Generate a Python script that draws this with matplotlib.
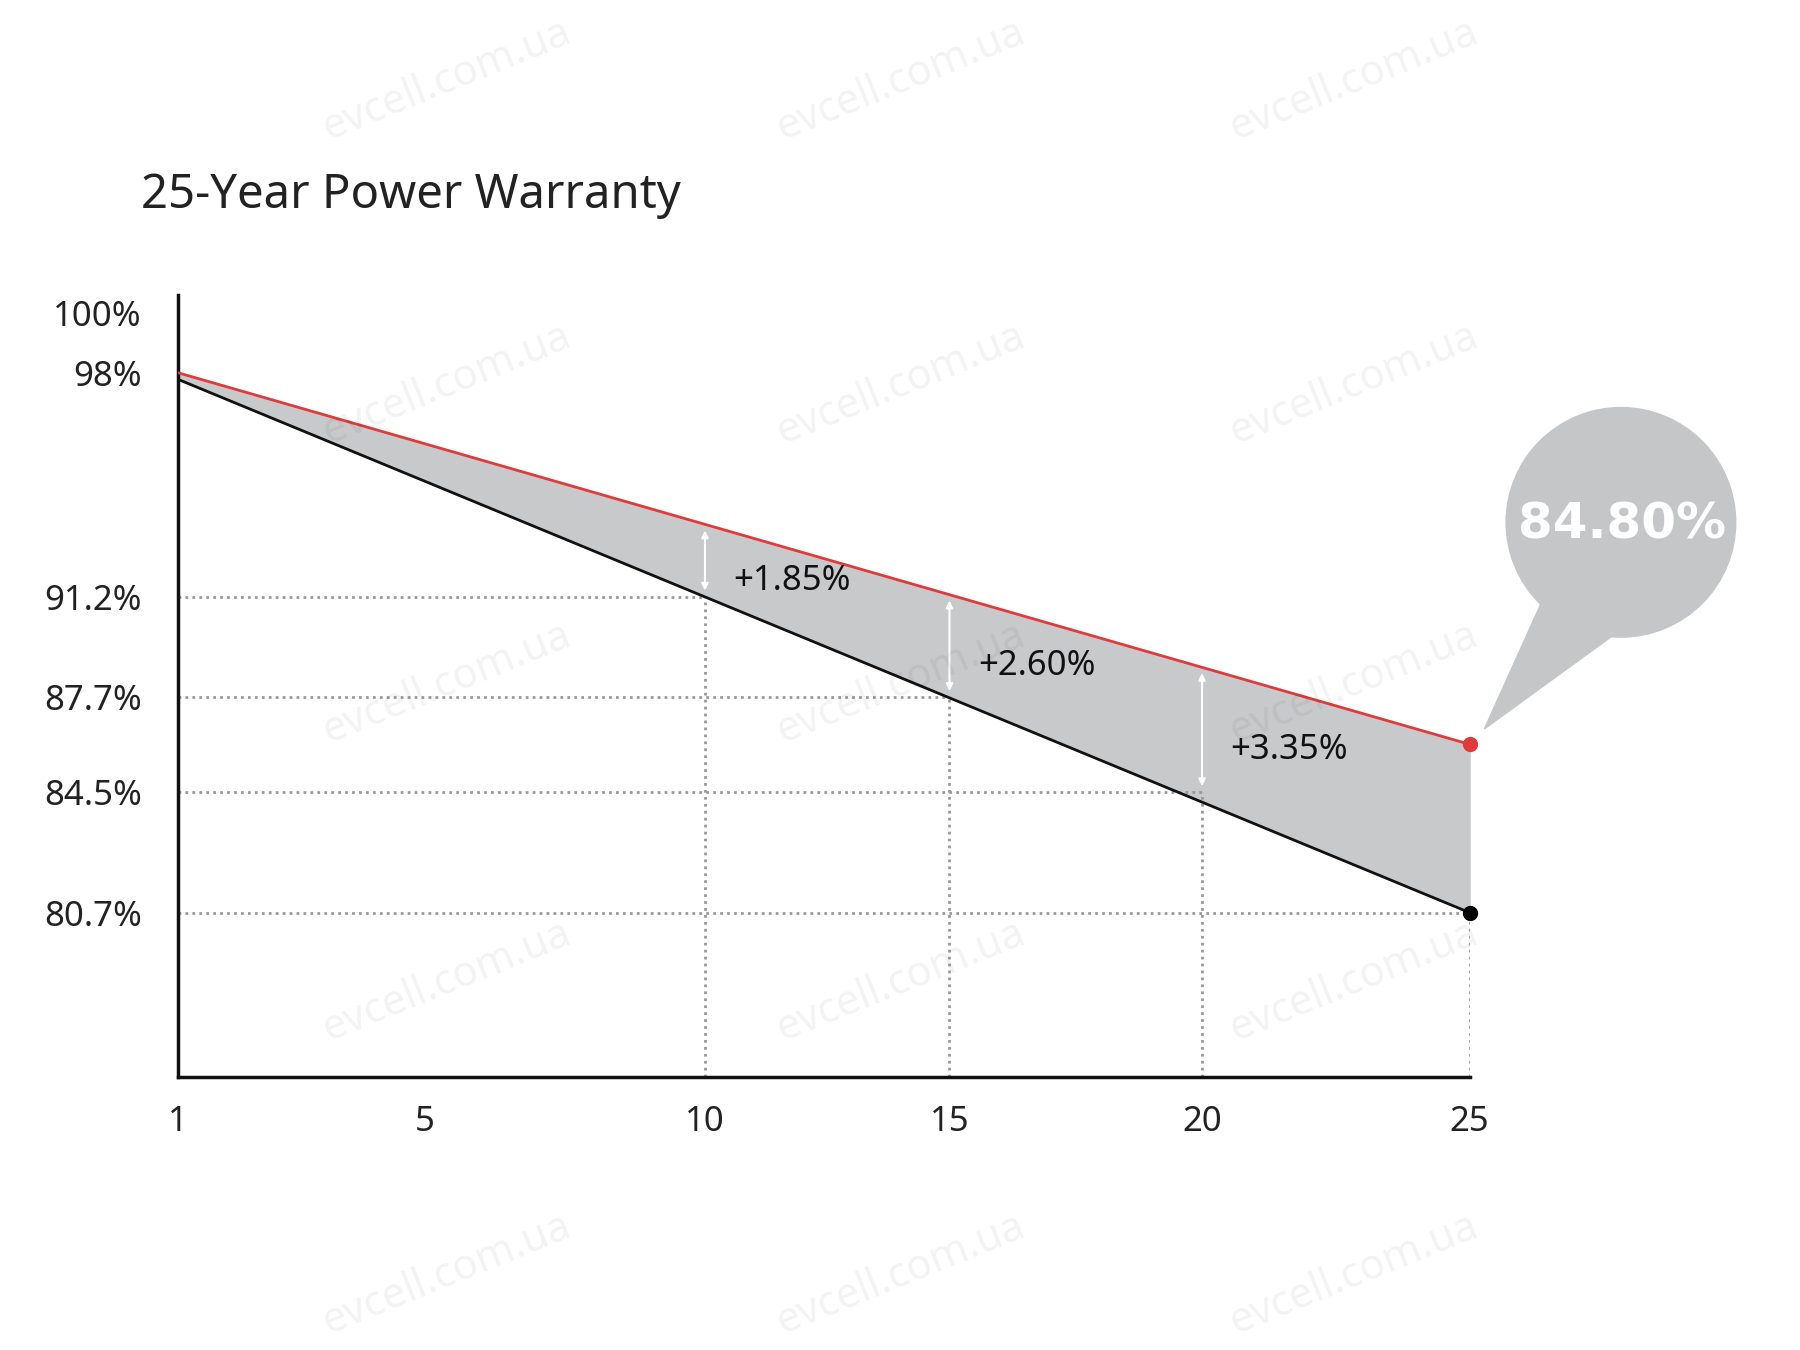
import matplotlib as mpl
import numpy as np
from matplotlib import pyplot as plt
from matplotlib.patches import Circle, Polygon

plt.rcParams["font.family"] = ["Noto Sans", "DejaVu Sans"]

YEARS = [1, 25]
RED_LINE = [98.0, 86.1]   # drawn end sits above the 84.5% gridline in the original
BLACK_LINE = [97.8, 80.7]
X_TICKS = [1, 5, 10, 15, 20, 25]
X_TICK_POS = [0, 215, 459, 672, 892, 1125]  # uneven spacing of the original axis
Y_TICKS = [100, 98, 91.2, 87.7, 84.5, 80.7]
Y_TICK_POS = [665, 613, 418, 331, 248, 143]  # uneven spacing of the original axis
Y_LABELS = ["100%", "98%", "91.2%", "87.7%", "84.5%", "80.7%"]
GAP_YEARS = [10, 15, 20]
GAP_LOW = [91.2, 87.7, 84.5]
GAP_LABELS = ["+1.85%", "+2.60%", "+3.35%"]
FINAL_LABEL = "84.80%"


def fwd(x):
    return np.interp(x, X_TICKS, X_TICK_POS)


def inv(x):
    return np.interp(x, X_TICK_POS, X_TICKS)


def yfwd(y):
    y = np.asarray(y, dtype=float)
    return np.interp(y, Y_TICKS[::-1], Y_TICK_POS[::-1]) + \
        np.where(y < 80.7, (y - 80.7) * 27.6, 0) + np.where(y > 100, (y - 100) * 26, 0)


def yinv(p):
    p = np.asarray(p, dtype=float)
    return np.interp(p, Y_TICK_POS[::-1], Y_TICKS[::-1]) + \
        np.where(p < 143, (p - 143) / 27.6, 0) + np.where(p > 665, (p - 665) / 26, 0)


def line_at(x, xs, ys):
    pos = fwd(np.asarray(x, dtype=float))
    py = np.interp(pos, fwd(np.array(xs, dtype=float)), yfwd(ys))
    return yinv(py)


fig = plt.figure(figsize=(18, 13.5), dpi=100)
ax = fig.add_axes([0.0989, 0.2024, 0.7175, 0.579])
ax.set_xscale("function", functions=(fwd, inv))
ax.set_yscale("function", functions=(yfwd, yinv))
ax.set_xlim(1, 25)
ax.set_ylim(75.52, 100.6)

xs = np.linspace(1, 25, 200)
red = line_at(xs, YEARS, RED_LINE)
black = line_at(xs, YEARS, BLACK_LINE)
ax.fill_between(xs, black, red, color="#c7c9cb", zorder=1)
ax.plot(xs, red, color="#e03a3a", lw=2, zorder=3)
ax.plot(xs, black, color="#111111", lw=2, zorder=3)
ax.plot(25, RED_LINE[1], "o", color="#e03a3a", ms=10, zorder=4, clip_on=False)
ax.plot(25, BLACK_LINE[1], "o", color="#000000", ms=10, zorder=4, clip_on=False)

dot = dict(color="#999999", lw=2, ls=(0, (1, 1.5)), zorder=2)
for yr, low in zip(GAP_YEARS + [25], GAP_LOW + [BLACK_LINE[1]]):
    ax.plot([1, yr], [low, low], **dot)
    ax.plot([yr, yr], [75.52, low], **dot)

for yr, low, lab in zip(GAP_YEARS, GAP_LOW, GAP_LABELS):
    high = float(line_at(yr, YEARS, RED_LINE))
    ax.annotate("", xy=(yr, high - 0.1), xytext=(yr, low + 0.1),
                arrowprops=dict(arrowstyle="<|-|>", color="white", lw=1.5,
                                mutation_scale=10), zorder=5)
    ax.text(inv(fwd(yr) + 25), float(yinv((yfwd(high) + yfwd(low)) / 2 - 18)), lab,
            fontsize=25, color="#111111", va="center", zorder=5)

ax.set_xticks(X_TICKS)
ax.set_xticklabels([str(t) for t in X_TICKS])
ax.set_yticks(Y_TICKS)
ax.set_yticklabels(Y_LABELS)
ax.tick_params(length=0, labelsize=25, colors="#222222", pad=26)
ax.tick_params(axis="x", pad=20)
for s in ["top", "right"]:
    ax.spines[s].set_visible(False)
for s in ["left", "bottom"]:
    ax.spines[s].set_linewidth(2.5)
    ax.spines[s].set_color("#111111")
ax.set_facecolor("none")

fig.text(123 / 1568, 1 - 170 / 1176, "25-Year Power Warranty", fontsize=34,
         color="#222222", va="center")

# overlay in reference pixel coordinates for bubble and watermark
ov = fig.add_axes([0, 0, 1, 1], zorder=10)
ov.set_xlim(0, 1568)
ov.set_ylim(1176, 0)
ov.axis("off")
ov.patch.set_alpha(0)
ov.add_patch(Circle((1412, 455), 100, color="#c4c6c8"))
ov.add_patch(Polygon([[1345, 520], [1410, 550], [1293, 635]], color="#c4c6c8"))
ov.text(1413, 457, FINAL_LABEL, fontsize=36, fontweight="bold", color="white",
        family="DejaVu Sans", ha="center", va="center")

for cx in [390, 785, 1180]:
    for cy in [70, 335, 595, 855, 1110]:
        ov.text(cx, cy, "evcell.com.ua", fontsize=30, color="#000000", alpha=0.05,
                rotation=22, ha="center", va="center", zorder=0)

fig.savefig("out.png", dpi=100, facecolor="white")
